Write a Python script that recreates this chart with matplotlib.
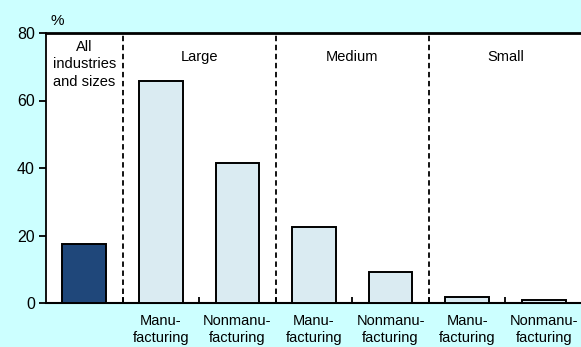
import matplotlib
matplotlib.use("Agg")
import matplotlib.pyplot as plt

plt.rcParams['font.family'] = ['Liberation Sans', 'DejaVu Sans']

# Data
categories = ["All", "Large Manu", "Large Nonmanu", "Medium Manu", "Medium Nonmanu", "Small Manu", "Small Nonmanu"]
values = [17.5, 65.8, 41.4, 22.4, 9.2, 1.7, 0.8]
tick_labels = ["", "Manu-\nfacturing", "Nonmanu-\nfacturing", "Manu-\nfacturing",
               "Nonmanu-\nfacturing", "Manu-\nfacturing", "Nonmanu-\nfacturing"]
group_labels = ["All\nindustries\nand sizes", "Large", "Medium", "Small"]
group_centers = [0.5, 2.0, 4.0, 6.0]
yticks = [0, 20, 40, 60, 80]

bg = "#CCFFFF"
dark = "#1F477A"
light = "#DAEBF2"

W, H = 581, 347
fig = plt.figure(figsize=(W / 100, H / 100), dpi=100, facecolor=bg)
ax = fig.add_axes([46 / W, (H - 303) / H, 536 / W, 270 / H])
ax.set_facecolor("white")

xs = [i + 0.5 for i in range(len(values))]
colors = [dark] + [light] * (len(values) - 1)
ax.bar(xs, values, width=0.57, color=colors, edgecolor="black", linewidth=1.4, zorder=3)

ax.set_xlim(0, 7)
ax.set_ylim(0, 80)

# dashed separators
for xv in [1, 3, 5]:
    ax.axvline(xv, color="black", linestyle=(0, (3, 2)), linewidth=1.3, zorder=2)

# spines
ax.spines["right"].set_visible(False)
ax.spines["top"].set_linewidth(2)
ax.spines["left"].set_linewidth(1.3)
ax.spines["bottom"].set_linewidth(1.5)

ax.set_yticks(yticks)
ax.tick_params(axis="y", direction="out", length=5, width=1.3, labelsize=11.5, pad=3)

ax.set_xticks([1, 2, 3, 4, 5, 6])
ax.set_xticklabels([])
ax.tick_params(axis="x", direction="in", length=4, width=1.3)
ax.set_xticks(xs, minor=True)
ax.set_xticklabels(tick_labels, minor=True, fontsize=10.5, linespacing=1.3)
ax.tick_params(axis="x", which="minor", length=0, pad=8)

# group labels
ax.text(group_centers[0], 77.9, group_labels[0], ha="center", va="top", fontsize=10.5, linespacing=1.3)
for gx, gl in zip(group_centers[1:], group_labels[1:]):
    ax.text(gx, 72.9, gl, ha="center", va="center", fontsize=10.5)

fig.text(57 / W, 1 - 21 / H, "%", ha="center", va="center", fontsize=11)

fig.savefig("out.png", dpi=100, facecolor=bg)
